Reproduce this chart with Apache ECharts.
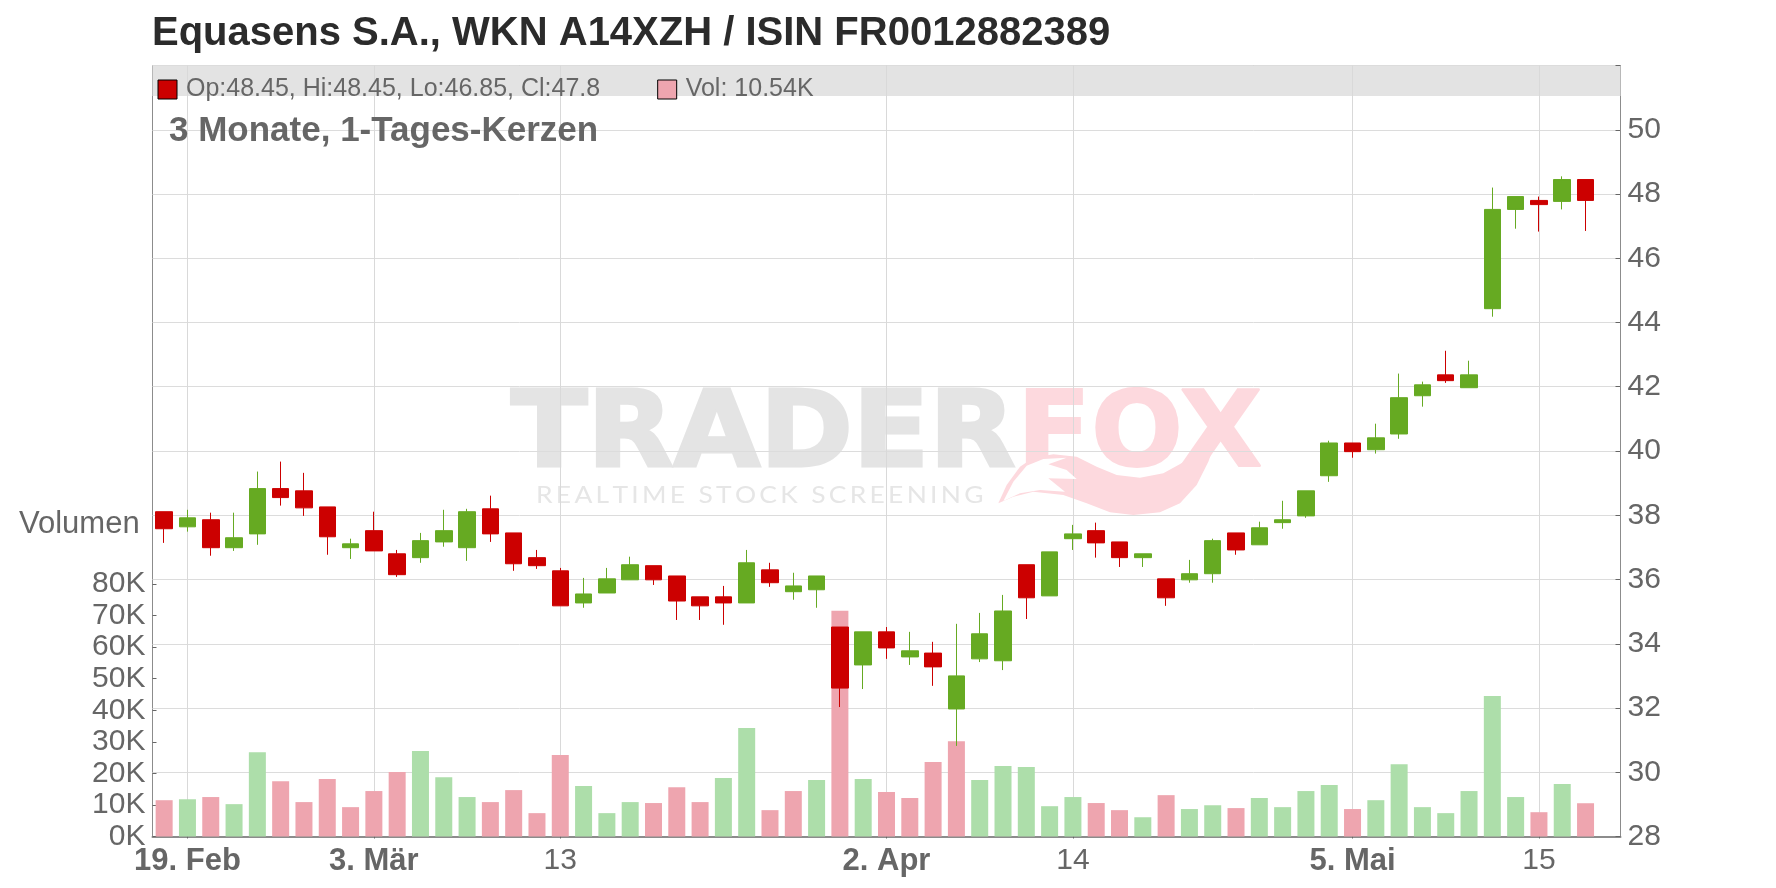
<!DOCTYPE html>
<html>
<head>
<meta charset="utf-8">
<style>html,body{margin:0;padding:0;background:#fff}#chart{width:1776px;height:888px}</style>
<script src="https://cdn.jsdelivr.net/npm/echarts@6/dist/echarts.min.js"></script>
</head>
<body>
<div id="chart"></div>
<script>
const chartTitle = 'Equasens S.A., WKN A14XZH / ISIN FR0012882389';
const subTitle = '3 Monate, 1-Tages-Kerzen';
const candleLegend = 'Op:48.45, Hi:48.45, Lo:46.85, Cl:47.8';
const volumeLegend = 'Vol: 10.54K';
const volumeLabel = 'Volumen';
const dateLabels = ['','19. Feb','','','','','','','',
  '3. Mär','','','','','','','',
  '13','','','','','','','','','','','','','',
  '2. Apr','','','','','','','',
  '14','','','','','','','','','','','',
  '5. Mai','','','','','','','',
  '15','',''];
const boldDates = ['19. Feb','3. Mär','2. Apr','5. Mai'];
const opens = [38.11,37.64,37.86,36.99,37.42,38.83,38.76,38.26,36.99,37.52,36.80,36.68,37.17,36.99,38.20,37.45,36.68,36.27,35.27,35.58,35.99,36.43,36.11,35.46,35.46,35.27,36.30,35.62,35.68,34.52,33.34,34.37,33.59,33.71,31.97,33.53,33.47,36.46,35.49,37.27,37.52,37.17,36.68,36.02,35.99,36.18,37.45,37.08,37.77,37.98,39.23,40.25,40.04,40.53,41.72,42.37,41.97,44.43,47.52,47.80,47.77,48.45];
const closes = [37.58,37.92,36.99,37.30,38.83,38.55,38.23,37.33,37.11,36.89,36.15,37.21,37.52,38.11,37.42,36.49,36.43,35.18,35.55,36.02,36.46,35.99,35.33,35.18,35.27,36.52,35.90,35.80,36.11,32.62,34.37,33.87,33.78,33.28,33.00,34.31,35.02,35.43,36.86,37.42,37.14,36.68,36.80,35.43,36.18,37.21,36.92,37.61,37.86,38.76,40.25,39.98,40.41,41.66,42.06,42.19,42.37,47.52,47.92,47.67,48.45,47.80];
const lows = [37.14,37.49,36.74,36.89,37.08,38.30,37.98,36.77,36.64,36.89,36.08,36.52,37.02,36.58,37.17,36.27,36.33,35.18,35.12,35.58,35.99,35.83,34.74,34.74,34.59,35.27,35.77,35.37,35.12,32.03,32.59,33.53,33.34,32.69,30.82,33.43,33.18,34.77,35.49,36.92,36.68,36.39,36.39,35.18,35.90,35.90,36.77,37.08,37.58,37.92,39.04,39.79,39.92,40.38,41.38,42.12,41.97,44.18,46.92,46.83,47.52,46.85];
const highs = [38.11,38.17,38.08,38.08,39.36,39.67,39.32,38.26,37.27,38.11,36.92,37.45,38.17,38.20,38.61,37.45,36.92,36.36,36.05,36.36,36.71,36.43,36.11,35.46,35.80,36.92,36.52,36.21,36.11,34.52,34.37,34.52,34.37,34.06,34.62,34.96,35.52,36.46,36.86,37.70,37.77,37.17,36.80,36.02,36.61,37.27,37.45,37.80,38.45,38.76,40.32,40.25,40.85,42.41,42.16,43.12,42.81,48.20,47.92,47.92,48.55,48.45];
const volumes = [11500,11800,12500,10250,26700,17500,10900,18200,9300,14400,20400,27100,18800,12500,10900,14700,7400,25800,16000,7400,10900,10600,15600,10900,18500,34400,8350,14400,17900,71500,18200,14100,12200,23600,30200,17900,22300,22000,9600,12500,10600,8350,6100,13100,8700,9900,9000,12200,9300,14400,16300,8700,11500,22900,9300,7400,14400,44500,12500,7700,16600,10540];
const volumeDirection = ['d','u','d','u','u','d','d','d','d','d','d','u','u','u','d','d','d','d','u','u','u','d','d','d','u','u','d','d','u','d','u','d','d','d','d','u','u','u','u','u','d','d','u','d','u','u','d','u','u','u','u','d','u','u','u','u','u','u','u','d','u','d'];

const RED = '#cc0000', GREEN = '#66aa22', PINK = '#eea5af', LIGHTGREEN = '#addeaa', GREY = '#666666';
const FONT = '"Liberation Sans", Arial, sans-serif';
const GL = 152.5, GR = 1776 - 1620.5, GT = 65.5, GB = 888 - 836.5, VOLTOP = 584;

const categories = dateLabels.concat(['']);
const showTick = (i, v) => v !== '';

const tailOuter = [[595,385],[620,330],[660,275],[700,248],[760,238],[830,245],[890,275],[950,300],[1020,308],[1090,295],[1150,262],[1200,215],[1245,205],[1225,260],[1190,330],[1140,385],[1080,412],[1000,420],[930,412],[860,385],[790,360],[700,350],[640,365]];
const tailInner = [[610,378],[640,320],[680,272],[730,252],[800,248],[745,268],[800,285],[830,312],[745,310],[770,330],[795,350],[720,345],[660,355]];

const chart = echarts.init(document.getElementById('chart'));
chart.setOption({
  animation:false,
  backgroundColor:'#fff',
  textStyle:{fontFamily:FONT},
  title:[
    {text:chartTitle,left:147,top:9,textStyle:{fontFamily:FONT,fontSize:40,fontWeight:'bold',color:'#2b2b2b'}},
    {text:subTitle,left:164,top:109,textStyle:{fontFamily:FONT,fontSize:35,fontWeight:'bold',color:GREY}},
    {text:volumeLabel,left:14,top:504,textStyle:{fontFamily:FONT,fontSize:31,fontWeight:'normal',color:GREY}}
  ],
  legend:{
    left:152.5,top:72,itemWidth:19,itemHeight:19,itemGap:57,selectedMode:false,
    textStyle:{fontFamily:FONT,fontSize:25,color:GREY,padding:[0,0,0,4]},
    data:[
      {name:candleLegend,icon:'rect',itemStyle:{color:RED,borderColor:'#000',borderWidth:1}},
      {name:volumeLegend,icon:'rect',itemStyle:{color:PINK,borderColor:'#000',borderWidth:1}}
    ]
  },
  grid:[
    {left:GL,right:GR,top:GT,bottom:GB,show:true,borderColor:'#8c8c8c',borderWidth:1,backgroundColor:'transparent'},
    {left:GL,right:GR,top:VOLTOP,bottom:GB}
  ],
  xAxis:[
    {type:'category',gridIndex:0,data:categories,boundaryGap:true,
      axisLine:{show:true,lineStyle:{color:'#8c8c8c',width:2}},
      axisTick:{show:true,interval:showTick,alignWithLabel:true,length:2,lineStyle:{color:'#666'}},
      splitLine:{show:true,interval:showTick,alignWithLabel:true,lineStyle:{color:'#d9d9d9',width:1}},
      axisLabel:{show:true,interval:showTick,margin:9,hideOverlap:false,fontFamily:FONT,fontSize:30,color:GREY,
        formatter:v=>boldDates.includes(v)?'{b|'+v+'}':v,
        rich:{b:{fontFamily:FONT,fontSize:31,fontWeight:'bold',color:GREY}}}},
    {type:'category',gridIndex:1,data:categories,boundaryGap:true,show:false}
  ],
  yAxis:[
    {type:'value',gridIndex:0,position:'right',min:28,max:52,interval:2,
      axisLine:{show:false},
      axisTick:{show:true,inside:true,length:5,lineStyle:{color:'#666'}},
      splitLine:{show:true,lineStyle:{color:'#dcdcdc',width:1}},
      axisLabel:{margin:7,fontFamily:FONT,fontSize:30,color:GREY,padding:[10,0,0,0],formatter:v=>v>=52?'':String(v)}},
    {type:'value',gridIndex:1,position:'left',min:0,max:80000,interval:10000,
      axisLine:{show:false},
      axisTick:{show:true,inside:true,length:4,lineStyle:{color:'#666'}},
      splitLine:{show:false},
      axisLabel:{margin:7,fontFamily:FONT,fontSize:30,color:GREY,padding:[10,0,0,0],formatter:v=>(v/1000)+'K'}}
  ],
  series:[
    {name:volumeLegend,type:'bar',xAxisIndex:1,yAxisIndex:1,barWidth:17,z:2,
      data:volumes.map((v,i)=>({value:v,itemStyle:{color:volumeDirection[i]==='d'?PINK:LIGHTGREEN}}))},
    {name:candleLegend,type:'candlestick',xAxisIndex:0,yAxisIndex:0,barWidth:17,z:3,
      itemStyle:{color:GREEN,color0:RED,borderColor:GREEN,borderColor0:RED,borderWidth:1},
      data:opens.map((o,i)=>[o,closes[i],lows[i],highs[i]])}
  ],
  graphic:[
    {type:'group',z:-1,silent:true,children:[
      {type:'rect',x:GL,y:GT,shape:{x:0,y:0,width:1620.5-GL,height:96-GT},style:{fill:'#e3e3e3'}},
      {type:'text',x:511,y:386,scaleX:1.065,style:{text:'TRADER',font:'bold 105px "DejaVu Sans"',fill:'#e4e4e4',stroke:'#e4e4e4',lineWidth:3}},
      {type:'text',x:1017,y:386,scaleX:1.03,style:{text:'FOX',font:'bold 105px "DejaVu Sans"',fill:'#fdd9de',stroke:'#fdd9de',lineWidth:2}},
      {type:'text',x:536,y:483,scaleX:1.1,style:{text:'REALTIME STOCK SCREENING'.split('').join('\u2009'),font:'24px Lato',fill:'#e6e6e6'}},
      {type:'group',x:800,y:375,scaleX:1/3,scaleY:1/3,children:[
        {type:'polygon',shape:{points:tailOuter},style:{fill:'#fdd9de'}},
        {type:'polygon',shape:{points:tailInner},z2:2,style:{fill:'#ffffff'}}
      ]}
    ]}
  ]
});
</script>
</body>
</html>
